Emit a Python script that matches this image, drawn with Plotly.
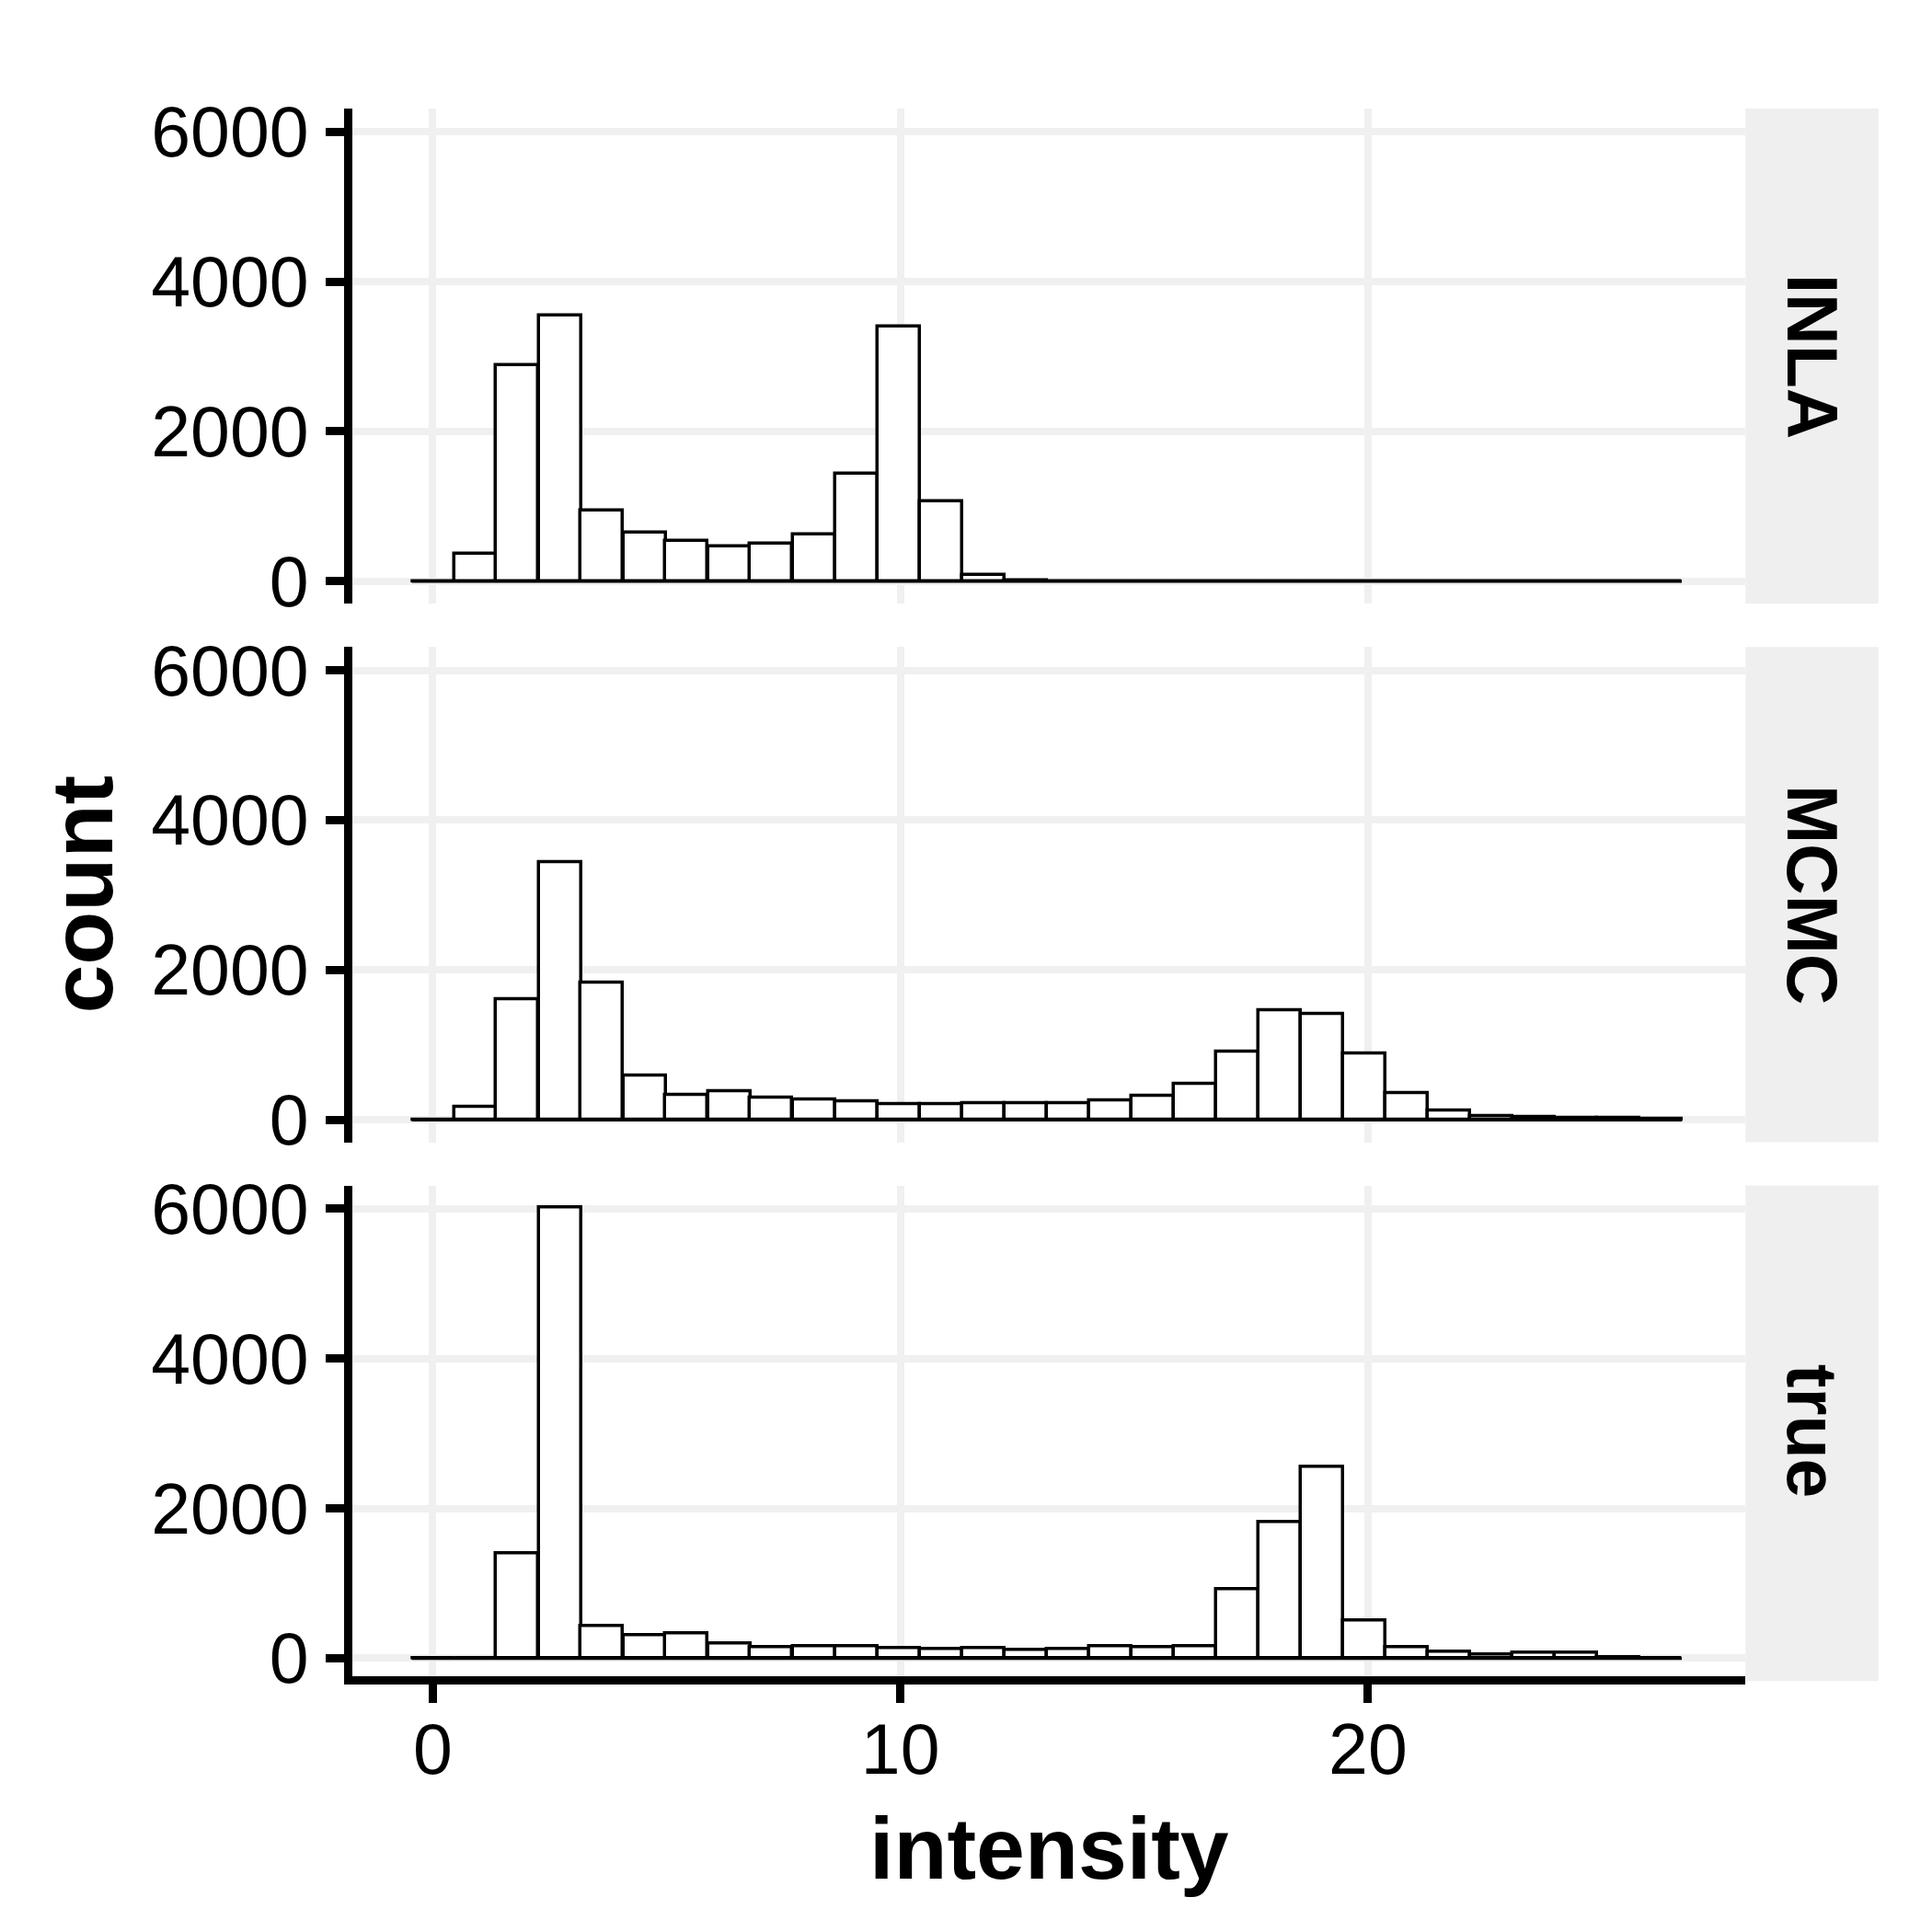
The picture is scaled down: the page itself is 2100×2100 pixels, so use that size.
import plotly.graph_objects as go

# ---------------- data ----------------
panels = ["INLA", "MCMC", "true"]

bin_centers = [0.00, 0.91, 1.81, 2.72, 3.62, 4.53, 5.43, 6.34, 7.24, 8.15,
               9.06, 9.96, 10.87, 11.77, 12.68, 13.58, 14.49, 15.39, 16.30, 17.20,
               18.11, 19.02, 19.92, 20.83, 21.73, 22.64, 23.54, 24.45, 25.35, 26.26]

inla_counts = [0, 364, 2886, 3544, 943, 649, 539, 460, 496, 623,
               1439, 3404, 1066, 79, 10, 0, 0, 0, 0, 0,
               0, 0, 0, 0, 0, 0, 0, 0, 0, 0]

mcmc_counts = [0, 167, 1606, 3441, 1826, 584, 329, 373, 294, 263,
               241, 211, 202, 224, 215, 224, 250, 312, 474, 904,
               1461, 1409, 887, 360, 118, 48, 35, 22, 18, 13]

true_counts = [0, 0, 1401, 6010, 430, 303, 325, 198, 149, 158,
               158, 127, 123, 136, 114, 123, 163, 141, 154, 914,
               1810, 2557, 501, 149, 79, 53, 75, 75, 9, 0]

x_ticks = [0, 10, 20]
y_ticks = [0, 2000, 4000, 6000]

# ---------------- styling ----------------
bin_width = 0.9055
FONT = "Liberation Sans, Arial, Helvetica, sans-serif"
GRID = "#F0F0F0"
STRIP = "#EFEFEF"
TICK_SIZE = 77
TITLE_SIZE = 95
LW = 9

W, H = 2100, 2100
OFF = 8  # page offset of the figure (body margin)

# plot area in figure coords
L, R, T, B = 375, 211, 110, 286
plot_x0, plot_x1 = L, W - R
plot_y0, plot_y1 = T, H - B
plot_w = plot_x1 - plot_x0
plot_h = plot_y1 - plot_y0

# panel extents in figure coords (top, bottom) and y ranges
panel_px = [(110.0, 648.3), (695.3, 1233.6), (1280.6, 1814.0)]
y_ranges = [[-300.5, 6310.5], [-300.5, 6310.5], [-240.3, 6310.5]]
domains = [[(plot_y1 - b) / plot_h, (plot_y1 - t) / plot_h] for (t, b) in panel_px]
strip_px = [(110.0, 648.3), (695.3, 1233.6), (1280.6, 1819.3)]

series = [inla_counts, mcmc_counts, true_counts]

fig = go.Figure()
for i, (name, counts) in enumerate(zip(panels, series)):
    k = i + 1
    xa = "x" if k == 1 else f"x{k}"
    ya = "y" if k == 1 else f"y{k}"
    fig.add_trace(go.Bar(
        x=bin_centers, y=counts, width=bin_width,
        marker=dict(color="white", line=dict(color="black", width=3.5)),
        xaxis=xa, yaxis=ya, showlegend=False, name=name,
    ))
    fig.add_trace(go.Scatter(
        x=[bin_centers[0] - bin_width / 2, bin_centers[-1] + bin_width / 2],
        y=[0, 0], mode="lines", line=dict(color="black", width=3.5),
        xaxis=xa, yaxis=ya, showlegend=False, hoverinfo="skip",
    ))

layout = dict(
    width=W, height=H,
    margin=dict(l=L, r=R, t=T, b=B, pad=0),
    paper_bgcolor="white", plot_bgcolor="white",
    font=dict(family=FONT, color="black", size=TICK_SIZE),
    bargap=0, showlegend=False,
)

for i in range(3):
    k = i + 1
    xkey = "xaxis" if k == 1 else f"xaxis{k}"
    ykey = "yaxis" if k == 1 else f"yaxis{k}"
    bottom = (k == 3)
    xa_dict = dict(
        domain=[0, 1], anchor="y" if k == 1 else f"y{k}",
        range=[-1.7215, 28.07], tickvals=x_ticks,
        showgrid=True, gridcolor=GRID, gridwidth=8, zeroline=False,
        showline=bottom, linecolor="black", linewidth=LW,
        ticks="outside" if bottom else "", ticklen=20, tickwidth=LW, tickcolor="black",
        showticklabels=bottom, tickfont=dict(size=TICK_SIZE, family=FONT, color="black"),
        ticklabelstandoff=-15,
    )
    if k != 1:
        xa_dict["matches"] = "x"
    layout[xkey] = xa_dict
    layout[ykey] = dict(
        domain=domains[i], anchor="x" if k == 1 else f"x{k}",
        range=y_ranges[i], tickvals=y_ticks,
        showgrid=True, gridcolor=GRID, gridwidth=8, zeroline=False,
        showline=True, linecolor="black", linewidth=LW,
        ticks="outside", ticklen=20, tickwidth=LW, tickcolor="black",
        tickfont=dict(size=TICK_SIZE, family=FONT, color="black"),
        ticklabelstandoff=3,
    )

fig.update_layout(**layout)


def px_to_paper_x(px):
    return (px - plot_x0) / plot_w


def px_to_paper_y(py):
    return (plot_y1 - py) / plot_h


# strips
shapes = []
annotations = []
sx0 = px_to_paper_x(1897.3 - OFF)
sx1 = px_to_paper_x(2041.7 - OFF)
for i, name in enumerate(panels):
    t, b = strip_px[i]
    y0, y1 = px_to_paper_y(b), px_to_paper_y(t)
    shapes.append(dict(type="rect", xref="paper", yref="paper",
                       x0=sx0, x1=sx1, y0=y0, y1=y1,
                       fillcolor=STRIP, line=dict(width=0), layer="below"))
    pt, pb = panel_px[i]
    annotations.append(dict(text=f"<b>{name}</b>", xref="paper", yref="paper",
                            x=(sx0 + sx1) / 2, y=px_to_paper_y((pt + pb) / 2),
                            xanchor="center", yanchor="middle", textangle=90,
                            showarrow=False,
                            font=dict(size=TICK_SIZE, family=FONT, color="black")))

annotations.append(dict(text="<b>intensity</b>", xref="paper", yref="paper",
                        x=0.5, y=px_to_paper_y(2001), xanchor="center", yanchor="middle",
                        showarrow=False,
                        font=dict(size=TITLE_SIZE, family=FONT, color="black")))
annotations.append(dict(text="<b>count</b>", xref="paper", yref="paper",
                        x=px_to_paper_x(80), y=px_to_paper_y((110 + 1819) / 2),
                        xanchor="center", yanchor="middle", textangle=-90,
                        showarrow=False,
                        font=dict(size=TITLE_SIZE, family=FONT, color="black")))

fig.update_layout(shapes=shapes, annotations=annotations)

fig.write_html("out.html")
